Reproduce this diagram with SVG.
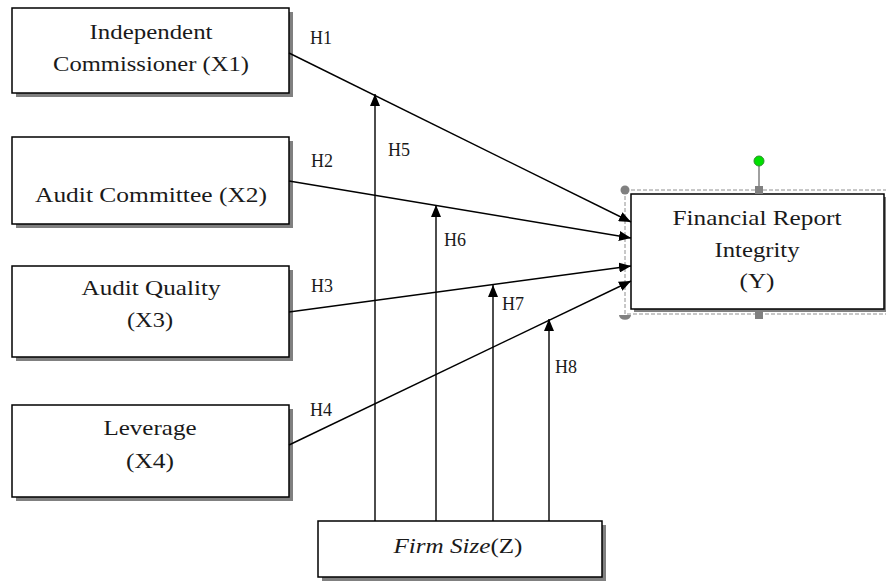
<svg xmlns="http://www.w3.org/2000/svg" width="886" height="582" viewBox="0 0 886 582">
<style>
.box{fill:#fff;stroke:#000;stroke-width:1.5}
.sh{fill:#808080}
.t{font-size:21px;fill:#1a1a1a;text-anchor:middle}
.h{font-size:18px;fill:#1a1a1a}
.ln{stroke:#000;stroke-width:1.4;fill:none}
</style>
<defs>
<marker id="ah" viewBox="0 0 12 10" refX="12" refY="5" markerWidth="12" markerHeight="10" markerUnits="userSpaceOnUse" orient="auto">
<path d="M0,0 L12,5 L0,10 Z" fill="#000"/>
</marker>
</defs>
<rect width="886" height="582" fill="#fff"/>
<g font-family="Liberation Serif, Times New Roman, serif">
<g id="x1">
<rect class="sh" x="16" y="12" width="277" height="85"/>
<rect class="box" x="12" y="8" width="277" height="85"/>
<text class="t" x="151" y="39" textLength="123" lengthAdjust="spacingAndGlyphs">Independent</text>
<text class="t" x="151" y="71" textLength="196" lengthAdjust="spacingAndGlyphs">Commissioner (X1)</text>
</g>
<g id="x2">
<rect class="sh" x="16" y="141" width="277" height="87"/>
<rect class="box" x="12" y="137" width="277" height="87"/>
<text class="t" x="151" y="202" textLength="232" lengthAdjust="spacingAndGlyphs">Audit Committee (X2)</text>
</g>
<g id="x3">
<rect class="sh" x="16" y="270" width="277" height="91"/>
<rect class="box" x="12" y="266" width="277" height="91"/>
<text class="t" x="151" y="295" textLength="139" lengthAdjust="spacingAndGlyphs">Audit Quality</text>
<text class="t" x="150" y="327" textLength="46" lengthAdjust="spacingAndGlyphs">(X3)</text>
</g>
<g id="x4">
<rect class="sh" x="16" y="409" width="277" height="92"/>
<rect class="box" x="12" y="405" width="277" height="92"/>
<text class="t" x="150" y="435" textLength="93" lengthAdjust="spacingAndGlyphs">Leverage</text>
<text class="t" x="150" y="468" textLength="48" lengthAdjust="spacingAndGlyphs">(X4)</text>
</g>
<g id="z">
<rect class="sh" x="322" y="525" width="284" height="56"/>
<rect class="box" x="318" y="521" width="284" height="56"/>
<text class="t" x="458" y="553" textLength="129" lengthAdjust="spacingAndGlyphs"><tspan font-style="italic">Firm Size</tspan>(Z)</text>
</g>
<g id="y">
<rect x="625" y="190" width="262" height="124" fill="none" stroke="#909090" stroke-width="1" stroke-dasharray="4,2"/>
<rect class="sh" x="634" y="197" width="252" height="115"/>
<rect class="box" x="631" y="194" width="253" height="115"/>
<text class="t" x="757" y="225" textLength="169" lengthAdjust="spacingAndGlyphs">Financial Report</text>
<text class="t" x="757" y="257" textLength="85" lengthAdjust="spacingAndGlyphs">Integrity</text>
<text class="t" x="757" y="288" textLength="35" lengthAdjust="spacingAndGlyphs">(Y)</text>
<line x1="759" y1="161" x2="759" y2="190" stroke="#808080" stroke-width="1.5"/>
<circle cx="625" cy="190" r="4.5" fill="#808080"/>
<rect x="755" y="186" width="8" height="8" fill="#808080"/>
<rect x="755" y="311" width="8" height="8" fill="#808080"/>
<path d="M619,315 A5,4 0 0 0 631,315 Z" fill="#808080"/>
<circle cx="759" cy="161" r="5" fill="#00e000" stroke="#309030" stroke-width="1"/>
</g>

<g id="connectors">
<line class="ln" x1="289" y1="53" x2="631" y2="222" marker-end="url(#ah)"/>
<line class="ln" x1="289" y1="181" x2="631" y2="238" marker-end="url(#ah)"/>
<line class="ln" x1="289" y1="312" x2="631" y2="266" marker-end="url(#ah)"/>
<line class="ln" x1="289" y1="445" x2="631" y2="281" marker-end="url(#ah)"/>
<line class="ln" x1="375" y1="521" x2="375" y2="94" marker-end="url(#ah)"/>
<line class="ln" x1="436" y1="521" x2="436" y2="205" marker-end="url(#ah)"/>
<line class="ln" x1="493" y1="521" x2="493" y2="285" marker-end="url(#ah)"/>
<line class="ln" x1="549" y1="521" x2="549" y2="319" marker-end="url(#ah)"/>
</g>
<g id="labels">
<text class="h" x="310" y="44">H1</text>
<text class="h" x="311" y="167">H2</text>
<text class="h" x="311" y="292">H3</text>
<text class="h" x="310" y="416">H4</text>
<text class="h" x="388" y="156">H5</text>
<text class="h" x="444" y="246">H6</text>
<text class="h" x="502" y="310">H7</text>
<text class="h" x="555" y="373">H8</text>
</g>
</g>
</svg>
